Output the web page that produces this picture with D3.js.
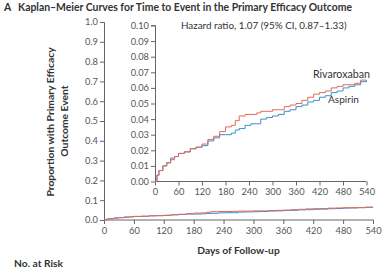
<!DOCTYPE html>
<html>
<head>
<meta charset="utf-8">
<script src="https://cdn.jsdelivr.net/npm/d3@7.9.0/dist/d3.min.js"></script>
<style>
  body { margin: 0; background: #fff; }
  svg text { font-family: Lato, "Open Sans", sans-serif; fill: #333; }
  .axis path, .axis line { stroke: #666; }
  .axis text { font-size: 9.3px; fill: #555; }
</style>
</head>
<body>
<svg id="chart" width="386" height="274"></svg>
<script>
const days = [0, 5, 10, 20, 30, 40, 50, 60, 75, 90, 105, 120, 135, 150, 165, 180, 195, 205, 215, 230, 245, 260, 270, 285, 300, 315, 330, 345, 360, 375, 390, 405, 420, 435, 450, 465, 480, 495, 510, 525, 540];
const rivaroxaban = [0, 0.004, 0.007, 0.010, 0.012, 0.014, 0.016, 0.018, 0.019, 0.021, 0.022, 0.024, 0.027, 0.029, 0.032, 0.035, 0.036, 0.039, 0.042, 0.043, 0.043, 0.044, 0.045, 0.045, 0.046, 0.046, 0.048, 0.049, 0.050, 0.052, 0.054, 0.056, 0.057, 0.058, 0.060, 0.061, 0.062, 0.062, 0.063, 0.065, 0.065];
const aspirin = [0, 0.004, 0.007, 0.010, 0.012, 0.015, 0.016, 0.018, 0.019, 0.021, 0.022, 0.023, 0.026, 0.028, 0.030, 0.030, 0.031, 0.033, 0.034, 0.036, 0.037, 0.037, 0.040, 0.041, 0.042, 0.043, 0.045, 0.046, 0.048, 0.049, 0.051, 0.052, 0.054, 0.055, 0.057, 0.058, 0.060, 0.061, 0.062, 0.064, 0.065];
const xTicks = [0, 60, 120, 180, 240, 300, 360, 420, 480, 540];
const outerYTicks = [0, 0.1, 0.2, 0.3, 0.4, 0.5, 0.6, 0.7, 0.8, 0.9, 1.0];
const innerYTicks = [0, 0.01, 0.02, 0.03, 0.04, 0.05, 0.06, 0.07, 0.08, 0.09, 0.10];

const red = '#e06a5a';
const blue = '#3b8fcb';

const svg = d3.select('#chart');

// scale a text's font so it spans about the same width as in the original
function fit(sel, width) {
  const size = +sel.attr('font-size');
  const w = sel.node().getBBox().width;
  sel.attr('font-size', (size * width / w).toFixed(2));
  return sel;
}

// title
svg.append('text').attr('x', 4).attr('y', 11)
  .attr('font-size', 10.5).attr('font-weight', 'bold').text('A');
svg.append('text').attr('x', 18).attr('y', 11)
  .attr('font-size', 10.4).attr('font-weight', 'bold')
  .attr('textLength', 334).attr('lengthAdjust', 'spacingAndGlyphs')
  .text('Kaplan\u2013Meier Curves for Time to Event in the Primary Efficacy Outcome');

// outer chart
const x = d3.scaleLinear().domain([0, 540]).range([104, 373]);
const y = d3.scaleLinear().domain([0, 1]).range([220, 22]);

svg.append('g').attr('class', 'axis').attr('transform', 'translate(104,0)')
  .call(d3.axisLeft(y).tickValues(outerYTicks).tickFormat(d3.format('.1f')).tickSize(4).tickPadding(2))
  .call(g => g.select('.domain').attr('d', 'M-4,22.5H0.5V220.5'));
svg.append('g').attr('class', 'axis').attr('transform', 'translate(0,220)')
  .call(d3.axisBottom(x).tickValues(xTicks).tickSize(4).tickPadding(3))
  .call(g => g.select('.domain').attr('d', 'M104.5,0H373.5'));

const line = (sx, sy, vals) => d3.line().curve(d3.curveStepAfter)
  .x((d, i) => sx(days[i])).y(d => sy(d))(vals);

svg.append('path').attr('d', line(x, y, aspirin)).attr('fill', 'none').attr('stroke', blue).attr('stroke-width', 1);
svg.append('path').attr('d', line(x, y, rivaroxaban)).attr('fill', 'none').attr('stroke', red).attr('stroke-width', 1);

// inset
const xi = d3.scaleLinear().domain([0, 540]).range([155, 366.5]);
const yi = d3.scaleLinear().domain([0, 0.10]).range([181.5, 25.5]);

svg.append('g').attr('class', 'axis').attr('transform', 'translate(155,0)')
  .call(d3.axisLeft(yi).tickValues(innerYTicks).tickFormat(d3.format('.2f')).tickSize(4).tickPadding(2))
  .call(g => g.select('.domain').attr('d', 'M-4,25.5H0.5V181.5'));
svg.append('g').attr('class', 'axis').attr('transform', 'translate(0,181.5)')
  .call(d3.axisBottom(xi).tickValues(xTicks).tickSize(4).tickPadding(3))
  .call(g => g.select('.domain').attr('d', 'M155,0H366.5'));

svg.append('path').attr('d', line(xi, yi, aspirin)).attr('fill', 'none').attr('stroke', blue).attr('stroke-width', 1);
svg.append('path').attr('d', line(xi, yi, rivaroxaban)).attr('fill', 'none').attr('stroke', red).attr('stroke-width', 1);

fit(svg.append('text').attr('x', 181).attr('y', 28.5)
  .attr('font-size', 9.6).text('Hazard ratio, 1.07 (95% CI, 0.87\u20131.33)'), 166);
fit(svg.append('text').attr('x', 370).attr('y', 78).attr('text-anchor', 'end')
  .attr('font-size', 9.4).text('Rivaroxaban'), 57);
fit(svg.append('text').attr('x', 359).attr('y', 103).attr('text-anchor', 'end')
  .attr('font-size', 9.4).text('Aspirin'), 31);

// axis labels
const yl1 = svg.append('text').attr('transform', 'translate(54,122) rotate(-90)')
  .attr('text-anchor', 'middle').attr('font-size', 9.6).attr('font-weight', 'bold')
  .text('Proportion with Primary Efficacy');
fit(yl1, 150);
svg.append('text').attr('transform', 'translate(68,121) rotate(-90)')
  .attr('text-anchor', 'middle').attr('font-size', yl1.attr('font-size')).attr('font-weight', 'bold')
  .text('Outcome Event');

fit(svg.append('text').attr('x', 238.5).attr('y', 254).attr('text-anchor', 'middle')
  .attr('font-size', 9.6).attr('font-weight', 'bold').text('Days of Follow-up'), 83);
fit(svg.append('text').attr('x', 14).attr('y', 267)
  .attr('font-size', 9.6).attr('font-weight', 'bold').text('No. at Risk'), 50);
</script>
</body>
</html>
